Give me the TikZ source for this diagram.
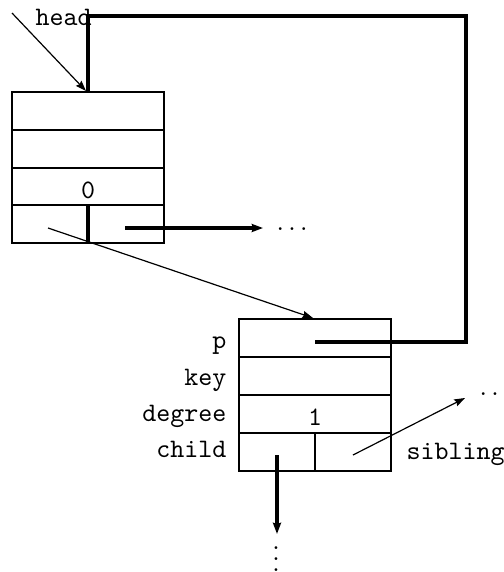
\documentclass[tikz,border=0pt]{standalone}
\usetikzlibrary{arrows.meta}
\begin{document}
\begin{tikzpicture}[x=0.375pt,y=-0.375pt,
  cell/.style={line width=0.85pt},
  thickptr/.style={line width=1.25pt, line join=miter},
  thinptr/.style={line width=0.45pt},
  bigtip/.style={-{Stealth[length=4.2pt,width=3pt,inset=0.5pt]}},
  smalltip/.style={-{Stealth[length=4pt,width=2.8pt,inset=0.5pt]}},
  lbl/.style={font=\ttfamily, inner sep=0pt},
  dots/.style={inner sep=0pt},
]
\useasboundingbox (0,0) rectangle (504,572);

% ---- head node: four fields, last one split in two ----
\draw[cell] (12,92) rectangle (164,243);
\draw[cell] (12,130) -- (164,130) (12,168) -- (164,168) (12,205) -- (164,205);
\draw[thickptr] (88,205) -- (88,243);
\node[lbl, anchor=base] (deg0) at (88,198) {0};

% ---- child node with field labels ----
\draw[cell] (239,319) rectangle (391,471);
\draw[cell] (239,357) -- (391,357) (239,395) -- (391,395) (239,433) -- (391,433);
\draw[cell] (315,433) -- (315,471);
\node[lbl, anchor=base] (deg1) at (315,425) {1};

\node[lbl, anchor=base east] (lp) at (227,348) {p};
\node[lbl, anchor=base east] (lkey) at (227,385) {key};
\node[lbl, anchor=base east] (ldeg) at (227,421) {degree};
\node[lbl, anchor=base east] (lchild) at (227,457) {child};
\node[lbl, anchor=base west] (lsib) at (406,459) {sibling};
\node[lbl, anchor=base west] (headlbl) at (35,25) {head};

% ---- continuation marks ----
\node[dots, anchor=base west] (moreA) at (276,230) {$\ldots$};
\node[dots, anchor=base west] (moreB) at (479,395) {$\ldots$};
\node[dots, anchor=base] (moreC) at (276,571) {$\vdots$};

% ---- pointer end points ----
\coordinate (hfrom) at (12,13);
\coordinate (hto) at (86,91);
\coordinate (htop) at (88,92);
\coordinate (cornerA) at (88,16);
\coordinate (cornerB) at (466,16);
\coordinate (cornerC) at (466,342);
\coordinate (pfield) at (315,342);
\coordinate (childA) at (48,228);
\coordinate (nodeB) at (313,318);
\coordinate (sibA) at (125,228);
\coordinate (sibAend) at (263,228);
\coordinate (childB) at (277,455);
\coordinate (childBend) at (277,534);
\coordinate (sibB) at (353,455);
\coordinate (sibBend) at (465,398);

% ---- pointers ----
\draw[thinptr, smalltip] (hfrom) -- (hto);
\draw[thickptr] (htop) -- (cornerA) -- (cornerB) -- (cornerC) -- (pfield);
\draw[thinptr, smalltip] (childA) -- (nodeB);
\draw[thickptr, bigtip] (sibA) -- (sibAend);
\draw[thickptr, bigtip] (childB) -- (childBend);
\draw[thinptr, smalltip] (sibB) -- (sibBend);
\end{tikzpicture}
\end{document}
